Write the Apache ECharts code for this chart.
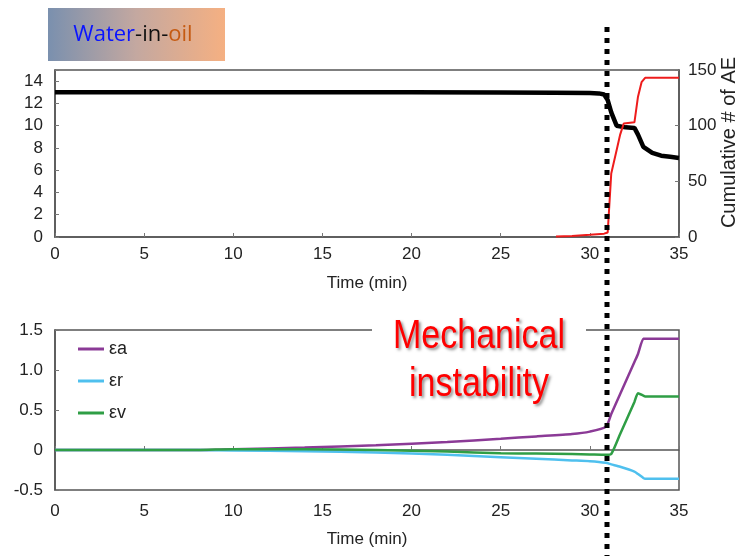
<!DOCTYPE html>
<html>
<head>
<meta charset="utf-8">
<script src="https://cdn.jsdelivr.net/npm/echarts@6/dist/echarts.min.js"></script>
<style>
  html, body { margin: 0; padding: 0; background: #fff; }
  #chart { width: 744px; height: 556px; }
</style>
</head>
<body>
<div id="chart"></div>
<script>
// top panel: stress (left axis) and cumulative AE count (right axis)
const stressTime = [0, 5, 10, 15, 20, 25, 28, 30, 30.5, 30.8, 31.0, 31.2, 31.5, 32.0, 32.5, 32.7, 33.0, 33.5, 34.0, 34.5, 35];
const stressVal  = [13.0, 13.0, 13.0, 13.0, 13.0, 12.98, 12.96, 12.93, 12.9, 12.8, 12.3, 11.2, 10.0, 9.85, 9.8, 9.2, 8.1, 7.55, 7.3, 7.2, 7.1];
const aeTime  = [28.1, 29, 30, 30.8, 31.0, 31.2, 31.5, 31.7, 31.9, 32.5, 32.7, 32.9, 33.1, 35];
const aeCount = [0.5, 1, 2, 3, 4, 57, 78, 92, 102, 103, 126, 139, 143, 143];

// bottom panel: strains
const strainTime = [0, 8, 10, 14, 18, 22, 25, 27, 29, 30, 30.9, 31.2, 31.7, 32.5, 32.7, 33.0, 33.1, 35];
const epsA = [0, 0, 0.01, 0.03, 0.06, 0.1, 0.14, 0.17, 0.2, 0.23, 0.29, 0.45, 0.7, 1.1, 1.2, 1.39, 1.39, 1.39];
const epsR = [0, 0, -0.005, -0.015, -0.03, -0.06, -0.09, -0.11, -0.13, -0.14, -0.16, -0.18, -0.21, -0.27, -0.3, -0.35, -0.36, -0.36];
const epsV = [0, 0, 0.01, 0.01, 0, -0.02, -0.04, -0.045, -0.05, -0.055, -0.06, -0.05, 0.2, 0.6, 0.71, 0.68, 0.67, 0.67];

const xTicks = [0, 5, 10, 15, 20, 25, 30, 35];

const pairs = (xs, ys) => xs.map((x, i) => [x, ys[i]]);

const font = "'Liberation Sans', Arial, sans-serif";
const lab = { color: '#222', fontSize: 17, fontFamily: font };
const tick = { show: true, inside: true, length: 4, lineStyle: { color: '#777' } };
const line = { show: true, lineStyle: { color: '#555', width: 1.5 } };

const xAxisCommon = {
  type: 'value', min: xTicks[0], max: xTicks[xTicks.length - 1], interval: 5,
  name: 'Time (min)', nameLocation: 'middle', nameGap: 38,
  nameTextStyle: lab,
  axisLine: line, axisTick: tick, splitLine: { show: false }
};

let myChart = echarts.init(document.getElementById('chart'));
myChart.setOption({
  animation: false,
  grid: [
    { left: 55, right: 65, top: 70, height: 167, outerBoundsMode: 'none', show: true, borderColor: '#555', borderWidth: 1.5 },
    { left: 55, right: 65, top: 330, height: 160, outerBoundsMode: 'none', show: true, borderColor: '#555', borderWidth: 1.5 }
  ],
  legend: {
    data: ['εa', 'εr', 'εv'],
    orient: 'vertical', left: 73, top: 335, itemGap: 14,
    icon: 'rect', itemWidth: 26, itemHeight: 3,
    textStyle: { color: '#222', fontSize: 18, fontFamily: font }
  },
  xAxis: [
    Object.assign({ gridIndex: 0, axisLabel: Object.assign({ margin: 9 }, lab) }, xAxisCommon),
    Object.assign({ gridIndex: 1, axisLabel: Object.assign({ margin: 13 }, lab) }, xAxisCommon, { nameGap: 41 })
  ],
  yAxis: [
    {
      type: 'value', gridIndex: 0, min: 0, max: 15, interval: 2,
      axisLine: line, axisTick: tick, splitLine: { show: false },
      axisLabel: Object.assign({ margin: 12, formatter: v => (v === 15 ? '' : v) }, lab)
    },
    {
      type: 'value', gridIndex: 0, position: 'right', min: 0, max: 150, interval: 50,
      name: 'Cumulative # of AE', nameLocation: 'middle', nameGap: 40, nameRotate: 90, nameMoveOverlap: false,
      nameTextStyle: { color: '#222', fontSize: 20, fontFamily: font, padding: [0, 0, 0, 22] },
      axisLine: line, axisTick: tick, splitLine: { show: false },
      axisLabel: Object.assign({ margin: 9 }, lab)
    },
    {
      type: 'value', gridIndex: 1, min: -0.5, max: 1.5, interval: 0.5,
      axisLine: line, axisTick: tick, splitLine: { show: false },
      axisLabel: Object.assign({ margin: 12, formatter: v => (v === 0 ? '0' : v.toFixed(1)) }, lab)
    }
  ],
  series: [
    {
      name: 'stress', type: 'line', xAxisIndex: 0, yAxisIndex: 0, symbol: 'none',
      lineStyle: { color: '#000', width: 4.5 }, data: pairs(stressTime, stressVal)
    },
    {
      name: 'AE', type: 'line', xAxisIndex: 0, yAxisIndex: 1, symbol: 'none',
      lineStyle: { color: '#ee1c1c', width: 2 }, data: pairs(aeTime, aeCount)
    },
    {
      name: 'εa', type: 'line', xAxisIndex: 1, yAxisIndex: 2, symbol: 'none', smooth: 0.2,
      itemStyle: { color: '#8b3a96' }, lineStyle: { color: '#8b3a96', width: 2.5 }, data: pairs(strainTime, epsA)
    },
    {
      name: 'εr', type: 'line', xAxisIndex: 1, yAxisIndex: 2, symbol: 'none', smooth: 0.2,
      itemStyle: { color: '#4fc0ee' }, lineStyle: { color: '#4fc0ee', width: 2.5 }, data: pairs(strainTime, epsR)
    },
    {
      name: 'εv', type: 'line', xAxisIndex: 1, yAxisIndex: 2, symbol: 'none', smooth: 0.2,
      itemStyle: { color: '#2f9e45' }, lineStyle: { color: '#2f9e45', width: 2.5 }, data: pairs(strainTime, epsV)
    }
  ],
  graphic: [
    {
      type: 'rect', z: 100, shape: { x: 48, y: 8, width: 177, height: 53 },
      style: {
        fill: new echarts.graphic.LinearGradient(0, 0, 1, 0, [
          { offset: 0, color: '#7a90ae' }, { offset: 0.5, color: '#c4a8a0' }, { offset: 1, color: '#f5b082' }
        ])
      }
    },
    {
      type: 'text', z: 101, x: 133, y: 35,
      style: {
        text: '{b|Water}{k|-in-}{o|oil}', align: 'center', verticalAlign: 'middle',
        rich: {
          b: { fill: '#0a14ff', fontSize: 22, fontFamily: 'Open Sans' },
          k: { fill: '#111', fontSize: 22, fontFamily: 'Open Sans' },
          o: { fill: '#c55a11', fontSize: 22, fontFamily: 'Open Sans' }
        }
      }
    },
    { type: 'rect', z: 100, shape: { x: 372, y: 320, width: 214, height: 20 }, style: { fill: '#fff' } },
    {
      type: 'text', z: 101, x: 479, y: 361, scaleX: 0.83,
      style: {
        text: 'Mechanical\ninstability', align: 'center', verticalAlign: 'middle', lineHeight: 48,
        fill: '#ff0000', fontSize: 41, fontFamily: font,
        textShadowColor: 'rgba(0,0,0,0.45)', textShadowBlur: 3, textShadowOffsetX: 2, textShadowOffsetY: 2
      }
    },
    {
      type: 'line', z: 200, shape: { x1: 607, y1: 27, x2: 607, y2: 556 },
      style: { stroke: '#000', lineWidth: 5, lineDash: [5, 6] }
    }
  ]
});
</script>
</body>
</html>
